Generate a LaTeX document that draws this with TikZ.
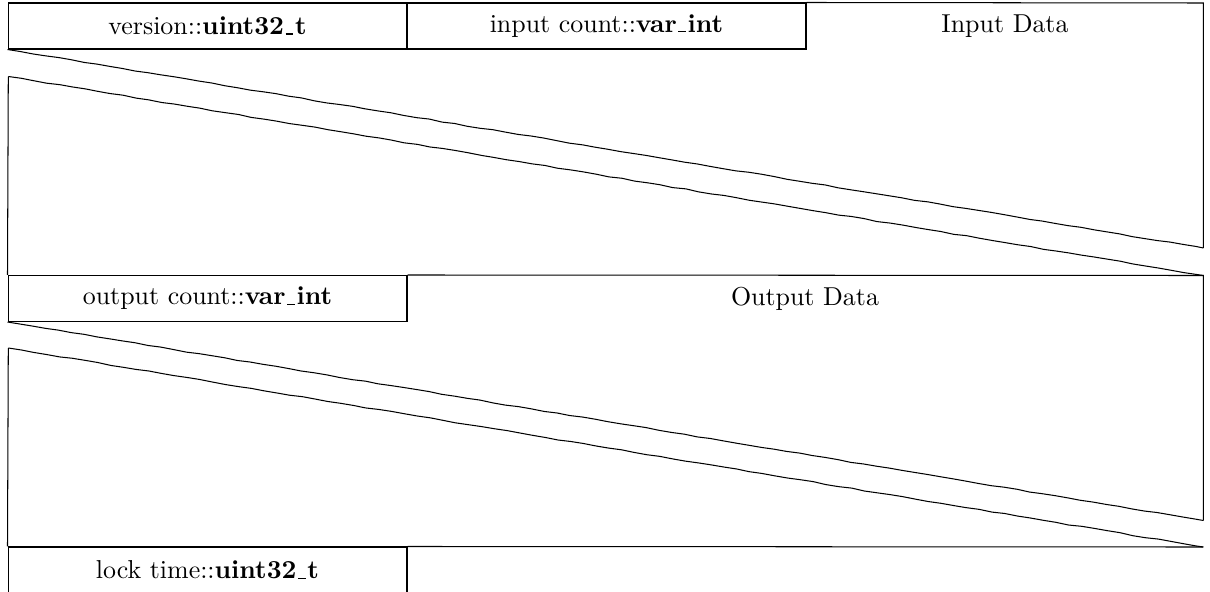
\documentclass[tikz,border=0pt]{standalone}
\usetikzlibrary{decorations.pathmorphing}
% short low bar, as the old OT1 underscore
\newcommand{\lowbar}{\leavevmode\kern.06em\vbox{\hrule width.3em height.5pt}\kern.06em}

\begin{document}
\begin{tikzpicture}[
  x=0.386pt, y=-0.386pt,
  field/.style={draw, minimum width=154pt, minimum height=17.75pt, inner sep=0pt},
  label/.style={inner sep=0pt},
  skip/.style={decorate, decoration={random steps, segment length=5pt, amplitude=0.18pt}}
]
\pgfmathsetseed{7}
\useasboundingbox (0,0) rectangle (1210,592);

% header words
\node[field] (version) at (207.5,26) {version::\textbf{uint32\lowbar t}};
\node[field] (incount) at (606.5,26) {input count::\textbf{var\lowbar int}};
\node[label] (indata) at (1005,26) {Input Data};

% input data frame, skipped words
\coordinate (intop) at (1203.3,3);
\coordinate (inend) at (1203.3,248);
\coordinate (inlow) at (8.3,76.5);
\draw (incount.north east) -- (intop) -- (inend);
\draw[skip] (version.south west) -- (inend);
\draw[skip] (inlow) -- (1203.3,275.5);

% output words
\node[field] (outcount) at (207.5,298.5) {output count::\textbf{var\lowbar int}};
\node[label] (outdata) at (805,298.5) {Output Data};

\coordinate (outtop) at (1203.3,275.5);
\coordinate (outend) at (1203.3,520.5);
\coordinate (outlow) at (8.3,348);
\draw (inlow) -- (outcount.north west);
\draw (outcount.north east) -- (outtop) -- (outend);
\draw[skip] (outcount.south west) -- (outend);
\draw[skip] (outlow) -- (1203.3,547);

% trailer
\node[field] (locktime) at (207.5,570) {lock time::\textbf{uint32\lowbar t}};
\draw (outlow) -- (locktime.north west);
\draw (locktime.north east) -- (1203.3,547);

\end{tikzpicture}
\end{document}
